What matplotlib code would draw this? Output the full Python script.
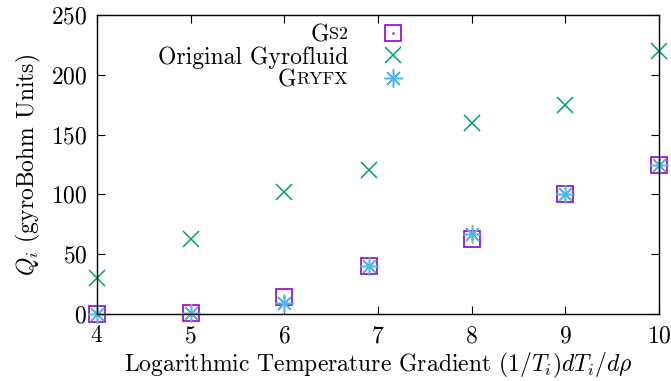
import numpy as np
import matplotlib
matplotlib.use("Agg")
import matplotlib.pyplot as plt

plt.rcParams["font.family"] = "cmr10"
plt.rcParams["mathtext.fontset"] = "cm"
plt.rcParams["axes.formatter.use_mathtext"] = True

# gradient values
grad = [4, 5, 6, 6.9, 8, 9, 10]
q_gs2 = [0, 1, 14, 40, 63, 100, 125]
q_gyrofluid = [30, 63, 102, 120, 160, 175, 220]
q_gryfx = [0, 1, 9, 40, 67, 100, 125]

c_gs2 = "#9400d3"
c_gf = "#009e73"
c_gryfx = "#56b4e9"

fs = 17

fig = plt.figure(figsize=(6.71, 3.81), dpi=100)
ax = fig.add_axes([97 / 671, 67 / 381, 562 / 671, 299 / 381])

ax.plot(grad, q_gs2, ls="none", marker="s", ms=12, mfc="none", mec=c_gs2, mew=1.2, clip_on=False)
ax.plot(grad, q_gs2, ls="none", marker=".", ms=1.5, color=c_gs2, clip_on=False)
ax.plot(grad, q_gyrofluid, ls="none", marker="x", ms=12, mec=c_gf, mew=1.1, clip_on=False)
ax.plot(grad, q_gryfx, ls="none", marker=(8, 2, 0), ms=13, mec=c_gryfx, mew=1.1, clip_on=False)

ax.set_xlim(4, 10)
ax.set_ylim(0, 250)
ax.set_xticks([4, 5, 6, 7, 8, 9, 10])
ax.set_yticks([0, 50, 100, 150, 200, 250])
ax.tick_params(direction="in", length=6, width=0.8, top=True, right=True,
               labelsize=fs)
ax.tick_params(axis="x", pad=8)
ax.tick_params(axis="y", pad=7)
for s in ax.spines.values():
    s.set_linewidth(1.0)

ax.set_xlabel(r"Logarithmic Temperature Gradient $(1/T_i)dT_i/d\rho$", fontsize=fs, labelpad=3)
ax.set_ylabel(r"$Q_i$ (gyroBohm Units)", fontsize=fs, labelpad=6)

# legend drawn by hand (small caps labels)
rows_y = [33, 55, 78]
text_x = 348
mark_x = 393
H = 381
fig.canvas.draw()
r = fig.canvas.get_renderer()


def smallcaps(xr, y, first, rest):
    t2 = fig.text(xr / 671, 1 - y / H, rest, fontsize=fs * 0.76, ha="right", va="center_baseline")
    bb = t2.get_window_extent(renderer=r)
    fig.text(bb.x0 / 671, 1 - y / H, first, fontsize=fs, ha="right", va="center_baseline")


smallcaps(text_x, rows_y[0], "G", "S2")
fig.text(text_x / 671, 1 - rows_y[1] / H, "Original Gyrofluid", fontsize=fs, ha="right", va="center_baseline")
smallcaps(text_x, rows_y[2], "G", "RYFX")

lx = [mark_x / 671]
fig.add_artist(plt.Line2D(lx, [1 - rows_y[0] / H], ls="none", marker="s", ms=12, mfc="none", mec=c_gs2, mew=1.2))
fig.add_artist(plt.Line2D(lx, [1 - rows_y[0] / H], ls="none", marker=".", ms=1.5, color=c_gs2))
fig.add_artist(plt.Line2D(lx, [1 - rows_y[1] / H], ls="none", marker="x", ms=12, mec=c_gf, mew=1.1))
fig.add_artist(plt.Line2D(lx, [1 - rows_y[2] / H], ls="none", marker=(8, 2, 0), ms=13, mec=c_gryfx, mew=1.1))

fig.savefig("out.png", dpi=100)
